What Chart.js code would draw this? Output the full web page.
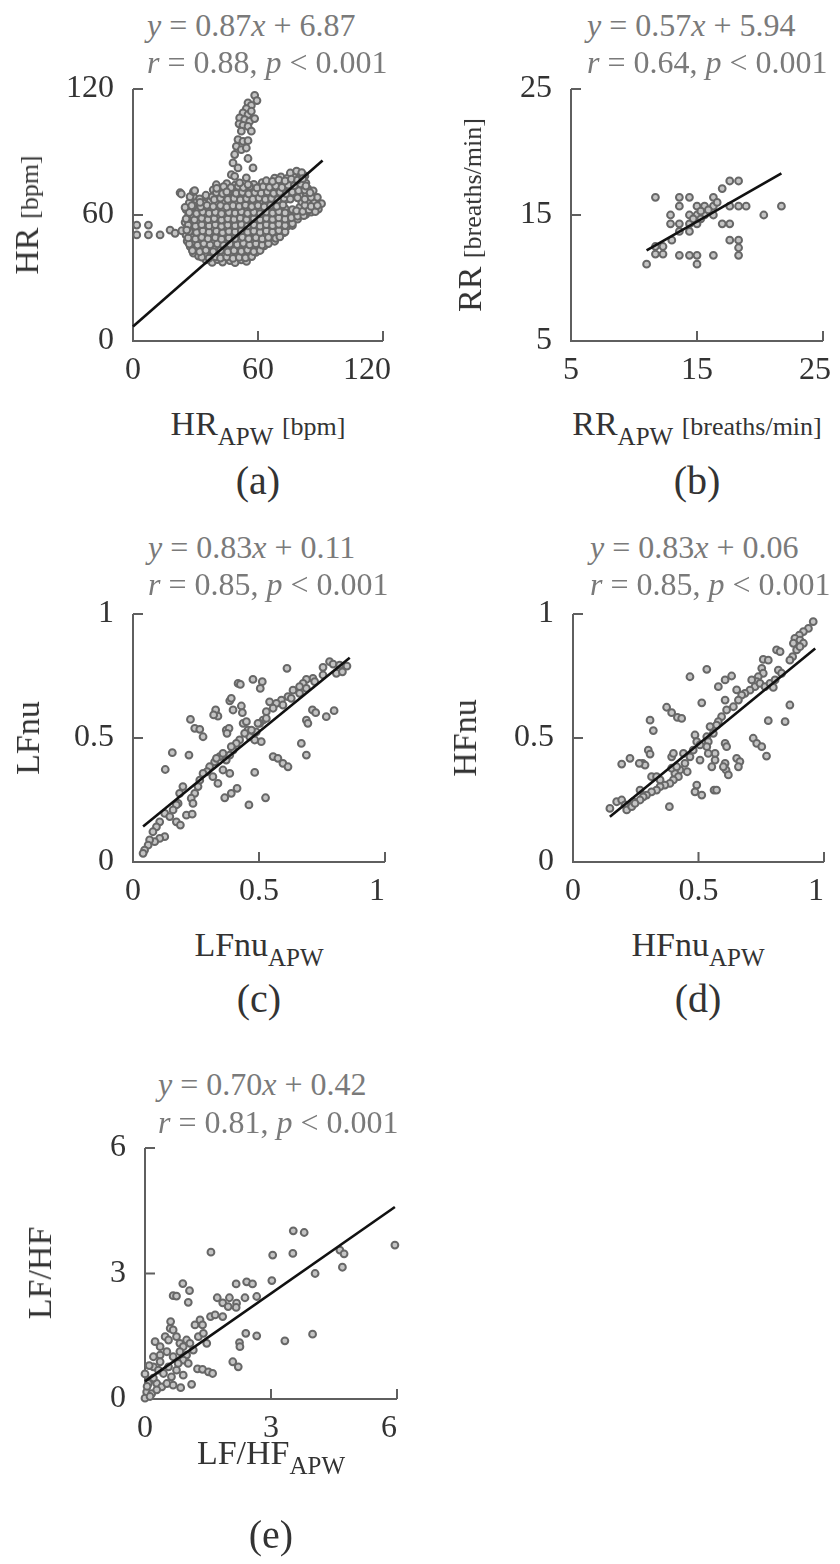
<!DOCTYPE html>
<html><head><meta charset="utf-8">
<script src="https://cdn.jsdelivr.net/npm/chart.js@4.4.1/dist/chart.umd.min.js"></script>
<style>
html,body{margin:0;padding:0;background:#fff;width:840px;height:1564px;overflow:hidden;}
body{position:relative;font-family:"Liberation Serif","Times New Roman",Times,"DejaVu Serif","Noto Serif",serif;}
#charts canvas{position:absolute;}
.t{position:absolute;white-space:nowrap;color:#333;line-height:1;}
.eq{font-size:32px;color:#7a7a7a;transform:translateY(-50%);}
.xt{font-size:34px;transform:translate(-50%,-50%);}
.yt{font-size:34px;transform:translate(-50%,-50%) rotate(-90deg);}
.cap{font-size:40px;transform:translate(-50%,-50%);}
sub{font-size:25px;vertical-align:-10px;line-height:0;}
.u{font-size:26px;}
</style></head><body>
<div id="charts"></div>

<div class="t eq" style="left:147px;top:25px"><i>y</i> = 0.87<i>x</i> + 6.87</div>
<div class="t eq" style="left:147px;top:62px"><i>r</i> = 0.88, <i>p</i> &lt; 0.001</div>
<div class="t eq" style="left:587px;top:25px"><i>y</i> = 0.57<i>x</i> + 5.94</div>
<div class="t eq" style="left:587px;top:62px"><i>r</i> = 0.64, <i>p</i> &lt; 0.001</div>
<div class="t eq" style="left:148px;top:547px"><i>y</i> = 0.83<i>x</i> + 0.11</div>
<div class="t eq" style="left:148px;top:584px"><i>r</i> = 0.85, <i>p</i> &lt; 0.001</div>
<div class="t eq" style="left:590px;top:547px"><i>y</i> = 0.83<i>x</i> + 0.06</div>
<div class="t eq" style="left:590px;top:584px"><i>r</i> = 0.85, <i>p</i> &lt; 0.001</div>
<div class="t eq" style="left:158px;top:1084px"><i>y</i> = 0.70<i>x</i> + 0.42</div>
<div class="t eq" style="left:158px;top:1122px"><i>r</i> = 0.81, <i>p</i> &lt; 0.001</div>

<div class="t yt" style="left:27px;top:215px">HR <span class="u">[bpm]</span></div>
<div class="t yt" style="left:470px;top:215px">RR <span class="u">[breaths/min]</span></div>
<div class="t yt" style="left:28px;top:738px">LFnu</div>
<div class="t yt" style="left:465px;top:738px">HFnu</div>
<div class="t yt" style="left:40px;top:1273px">LF/HF</div>

<div class="t xt" style="left:258px;top:424px">HR<sub>APW</sub> <span class="u">[bpm]</span></div>
<div class="t xt" style="left:697px;top:424px">RR<sub>APW</sub> <span class="u">[breaths/min]</span></div>
<div class="t xt" style="left:259px;top:945px">LFnu<sub>APW</sub></div>
<div class="t xt" style="left:698px;top:945px">HFnu<sub>APW</sub></div>
<div class="t xt" style="left:271px;top:1453px">LF/HF<sub>APW</sub></div>

<div class="t cap" style="left:258px;top:481px">(a)</div>
<div class="t cap" style="left:697px;top:481px">(b)</div>
<div class="t cap" style="left:259px;top:999px">(c)</div>
<div class="t cap" style="left:698px;top:999px">(d)</div>
<div class="t cap" style="left:271px;top:1535px">(e)</div>

<script>
// ---------- tick values ----------
const hrTicks = [0, 60, 120];
const rrTicks = [5, 15, 25];
const nuTicks = [0, 0.5, 1];
const lfhfTicks = [0, 3, 6];

// ---------- regression line end points ----------
const hrFit = [[0, 6.87], [91, 86.0]];
const rrFit = [[11.0, 12.2], [21.7, 18.3]];
const lfnuFit = [[0.04, 0.143], [0.86, 0.824]];
const hfnuFit = [[0.147, 0.182], [0.965, 0.861]];
const lfhfFit = [[0, 0.42], [5.95, 4.59]];

// ---------- (a) HR_APW vs HR ----------
const hrFinger = [[58.4,117.0],[59.5,114.5],[55.2,113.4],[56.8,112.2],[54.4,110.7],[52.8,108.6],[55.2,107.8],[56.8,109.4],[51.2,106.2],[53.6,105.4],[56.0,104.6],[58.4,105.9],[50.9,103.4],[52.8,102.7],[55.2,102.2],[56.8,99.9],[52.0,99.9],[50.4,95.9],[52.8,95.1],[55.2,95.4],[49.6,92.7],[52.0,91.1],[54.4,91.9],[48.8,88.8],[55.2,86.9],[48.0,84.8],[50.4,82.4],[57.6,82.4],[47.2,79.2],[48.8,78.4],[54.4,77.7],[51.2,75.3],[55.2,74.5]];
const hrTail = [[1.8,55.2],[1.8,50.5],[7.4,55.2],[7.4,50.5],[13.0,50.5],[17.8,52.8],[20.2,51.3],[23.4,52.5],[25.8,52.8],[22.6,70.6],[27.4,68.7],[29.0,71.1],[25.0,63.6],[28.2,64.4],[32.2,66.0],[40.2,72.7],[45.0,71.0],[23.2,70.0],[29.6,71.6]];
const hrCloud = [
[35,38.6],[38,37.4],[40.5,38.8],[43,37.6],[46.5,38.3],[49,37.3],[52,38.6],[54.5,37.9],
[29,41.8],[31.5,40.4],[34.5,41.5],[37.5,40.6],[41,41.9],[44,40.5],[47.5,41.2],[50,40.3],[53,41.6],[56.5,41.0],[59,42.2],
[27.5,44.9],[30,43.4],[33,44.8],[36.5,43.6],[39,44.6],[42.5,43.3],[45,45.0],[48,43.9],[51.5,44.5],[54,43.5],[57,44.8],[60.5,44.0],[63,45.3],
[26,47.6],[29.5,47.2],[32,46.4],[35.5,47.9],[38.5,46.7],[42,47.6],[45,46.5],[48.5,47.8],[51,46.9],[54,47.6],[57.5,46.6],[60,48.0],[63,47.1],[65.5,48.4],[68,47.5],
[25.5,50.4],[28,49.3],[31.5,50.8],[34,49.8],[37,50.9],[40.5,49.5],[43,50.6],[46,49.6],[49.5,50.9],[52,49.8],[55,50.7],[58.5,49.7],[61,51.0],[64,50.2],[67.5,51.2],[70,50.4],[72.5,51.6],
[26,53.8],[29.5,52.9],[32,54.0],[35,53.1],[38.5,53.9],[41,52.8],[44,54.1],[47.5,53.2],[50,54.0],[53,52.9],[56.5,53.8],[59,53.3],[62,54.2],[65.5,53.4],[68,54.3],[71,53.5],[74,54.6],[76.5,55.0],
[25,56.5],[28.5,55.9],[31,57.0],[34,56.0],[37.5,56.9],[40,55.8],[43,56.8],[46.5,56.0],[49,57.1],[52,56.2],[55.5,57.0],[58,56.1],[61,57.2],[64.5,56.3],[67,57.3],[70,56.5],[73.5,57.6],[76,56.8],[79,58.0],
[26.5,59.4],[29,58.9],[32.5,60.0],[35,59.1],[38,60.1],[41.5,59.0],[44,60.2],[47,59.3],[50.5,60.3],[53,59.4],[56,60.4],[59.5,59.5],[62,60.5],[65,59.7],[68.5,60.7],[71,59.8],[74,60.9],[77.5,60.1],[80,61.0],[83,60.3],[85.5,61.4],
[25.5,62.6],[28,63.2],[31.5,62.4],[34,63.3],[37,62.5],[40.5,63.4],[43,62.6],[46,63.5],[49.5,62.7],[52,63.6],[55,62.8],[58.5,63.7],[61,62.9],[64,63.8],[67.5,63.0],[70,63.9],[73,63.1],[76.5,62.6],[80,63.6],[83,62.9],[86,63.8],[89,62.8],
[27,65.8],[30.5,66.3],[34,65.6],[37,66.5],[40,65.7],[43.5,66.6],[46,65.9],[49,66.8],[52.5,66.0],[55,66.9],[58,66.1],[61.5,67.0],[64,66.2],[67,67.1],[70.5,66.3],[73,67.3],[81,66.2],[84,67.0],[87,66.0],[90.5,65.4],
[29,68.9],[35,69.4],[38,68.6],[41,69.5],[44.5,68.7],[47,69.6],[50,68.8],[53.5,69.7],[56,68.9],[59,69.8],[62.5,69.0],[65,69.9],[68,69.1],[71.5,70.0],[74,69.2],[77,70.1],[80.5,69.3],[83,70.3],[86,69.5],[88.5,68.4],
[38.5,72.0],[42,71.4],[45,72.3],[48,71.5],[51.5,72.4],[54,71.6],[57,72.5],[60.5,71.7],[63,72.6],[66,71.8],[69.5,72.8],[72,72.0],[75,73.0],[78.5,72.2],[81,73.2],[84,72.4],[86.5,71.5],
[40,74.4],[45,74.9],[49,74.2],[58,74.6],[62,75.4],[65,74.6],[68,75.6],[71,74.8],[74,75.9],[77,75.0],[80,76.1],[83,75.2],
[68,77.6],[71,78.2],[74,77.4],[77,78.5],[80,77.7],[82.5,78.6],
[75.5,80.0],[78.5,80.9],[81,80.2]
];
// overlapping points between the rows of the dense core
const hrCloudCore = [
[33,39.9],[36.5,39.4],[39.5,40.1],[42,39.5],[45,40.0],[48,39.3],[51,39.8],[54,39.6],[57,40.2],
[28.5,43.0],[32,42.5],[35,43.2],[38.5,42.6],[42,43.1],[45.5,42.4],[48.5,43.0],[52,42.7],[55,43.3],[58,42.6],[61,43.1],
[27,46.2],[31,45.7],[34,46.4],[37,45.8],[40.5,46.3],[43.5,45.6],[46.5,46.2],[50,45.9],[53,46.5],[56,45.8],[59,46.3],[62,45.7],[65,46.4],
[26.5,49.1],[30,48.6],[33,49.3],[36,48.7],[39.5,49.2],[42.5,48.5],[46,49.1],[49,48.8],[52.5,49.4],[55.5,48.7],[59,49.2],[62,48.6],[65,49.3],[68.5,48.9],[70.5,49.6],
[27,52.2],[30.5,51.7],[33.5,52.4],[36.5,51.8],[40,52.3],[43,51.6],[46,52.2],[49,51.9],[52,52.5],[55,51.8],[58,52.3],[61,51.7],[64,52.4],[67,51.9],[70,52.6],[73,52.0],
[26.5,55.2],[30,54.7],[33,55.4],[36.5,54.8],[39.5,55.3],[42.5,54.6],[45.5,55.2],[49,54.9],[52,55.5],[55,54.8],[58,55.3],[61,54.7],[64,55.4],[67,54.9],[70,55.6],[73,55.0],[76.5,55.9],
[25.5,58.2],[29.5,57.7],[33,58.4],[36,57.8],[39,58.3],[42.5,57.6],[45.5,58.2],[48.5,57.9],[51.5,58.5],[54.5,57.8],[58,58.3],[61,57.7],[64,58.4],[67,57.9],[70,58.6],[73,58.0],[76,58.7],[79,59.4],[82,59.7],
[27,61.2],[30.5,60.7],[33.5,61.4],[36.5,60.8],[39.5,61.3],[42.5,60.6],[46,61.2],[49,60.9],[52,61.5],[55,60.8],[58,61.3],[61,60.7],[64,61.4],[67,60.9],[70,61.6],[73,61.0],[78.5,62.0],[81.5,61.7],[84.5,62.4],[87.5,61.6],
[29,64.4],[32.5,63.9],[35.5,64.6],[38.5,64.0],[42,64.5],[45,63.8],[48,64.4],[51,64.1],[54,64.7],[57,64.0],[60,64.5],[63,63.9],[66,64.6],[69,64.1],[72,64.8],[82.5,64.6],[85.5,64.1],[88.5,64.5],
[32,67.7],[39,67.3],[42,68.0],[45.5,67.4],[48.5,67.9],[51.5,67.2],[54.5,67.8],[57.5,67.5],[60.5,68.1],[63.5,67.4],[66.5,67.9],[69.5,67.3],[72.5,68.0],[75.5,67.6],[79,68.2],[82.5,67.6],[85.5,68.4],
[40,70.7],[43,70.2],[46,70.9],[49.5,70.3],[52.5,70.8],[55.5,70.1],[58.5,70.7],[61.5,70.4],[64.5,71.0],[67.5,70.3],[70.5,70.8],[73.5,70.2],[76.5,70.9],[79.5,71.6],[82.5,71.9],[85,70.6],
[43.5,73.5],[47,73.0],[50.5,73.7],[53,73.1],[56,73.6],[59.5,72.9],[62.5,73.5],[65.5,73.2],[68.5,73.8],[71.5,73.1],[74.5,74.2],[77.5,74.0],[80.5,74.8],[83,73.8],
[64,76.3],[67,76.0],[70,76.7],[73,76.2],[76,77.1],[79,76.6],[81.5,77.3]
];

// ---------- (b) RR_APW vs RR ----------
const rrPoints = [[11.7,16.4],[13.6,16.4],[14.4,16.4],[13.6,15.7],[15.0,15.7],[15.6,15.7],[16.3,15.7],[17.6,15.7],[18.3,15.7],[18.9,15.7],[21.7,15.7],
[17.6,17.7],[18.3,17.7],[17.0,17.1],[16.3,16.4],
[12.9,15.0],[14.4,15.0],[15.0,15.0],[15.6,15.0],[16.3,15.0],[20.3,15.0],
[12.9,14.3],[13.6,14.3],[14.4,14.3],[15.0,14.3],[17.0,14.3],[17.6,14.3],
[13.6,13.7],[14.4,13.7],[13.0,13.0],[12.3,12.5],[11.7,12.5],[17.6,13.0],[18.3,13.0],
[11.7,11.9],[12.3,11.9],[13.6,11.8],[14.4,11.8],[15.0,11.8],[16.3,11.8],[18.3,12.4],[18.3,11.8],
[11.0,11.1],[15.0,11.1],[15.3,15.3],[15.9,15.4],[16.6,16.0],[14.7,14.7],[15.3,14.7]];

// ---------- (c) LFnu_APW vs LFnu ----------
const lfnuPoints = [[0.611,0.781],[0.78,0.808],[0.794,0.798],[0.82,0.794],[0.849,0.79],[0.807,0.761],[0.831,0.767],[0.754,0.785],[0.714,0.74],[0.688,0.736],[0.675,0.72],[0.661,0.707],[0.635,0.693],[0.615,0.667],[0.589,0.653],[0.569,0.64],[0.542,0.646],[0.556,0.62],[0.529,0.606],[0.516,0.572],[0.503,0.559],[0.476,0.736],[0.513,0.727],[0.505,0.7],[0.417,0.72],[0.426,0.716],[0.384,0.65],[0.39,0.66],[0.397,0.613],[0.43,0.629],[0.434,0.602],[0.328,0.613],[0.337,0.588],[0.32,0.593],[0.228,0.575],[0.245,0.539],[0.265,0.535],[0.278,0.505],[0.37,0.532],[0.381,0.539],[0.373,0.519],[0.437,0.559],[0.45,0.566],[0.456,0.532],[0.463,0.505],[0.443,0.519],[0.423,0.492],[0.41,0.478],[0.397,0.451],[0.384,0.431],[0.37,0.411],[0.489,0.525],[0.509,0.485],[0.483,0.492],[0.156,0.441],[0.222,0.431],[0.128,0.373],[0.344,0.425],[0.324,0.404],[0.304,0.384],[0.294,0.364],[0.317,0.344],[0.337,0.317],[0.357,0.371],[0.384,0.357],[0.265,0.33],[0.258,0.304],[0.245,0.277],[0.231,0.257],[0.238,0.236],[0.198,0.304],[0.185,0.277],[0.179,0.236],[0.172,0.23],[0.556,0.425],[0.575,0.418],[0.595,0.398],[0.615,0.384],[0.668,0.478],[0.688,0.431],[0.688,0.572],[0.694,0.559],[0.712,0.613],[0.725,0.602],[0.767,0.586],[0.798,0.61],[0.483,0.361],[0.364,0.259],[0.39,0.277],[0.413,0.297],[0.526,0.259],[0.46,0.23],[0.172,0.162],[0.188,0.149],[0.212,0.189],[0.235,0.193],[0.126,0.196],[0.106,0.162],[0.093,0.142],[0.079,0.122],[0.126,0.102],[0.106,0.095],[0.086,0.082],[0.066,0.089],[0.06,0.068],[0.046,0.048],[0.04,0.035],[0.146,0.183],[0.159,0.21],[0.278,0.357],[0.331,0.418],[0.357,0.438],[0.39,0.465],[0.47,0.532],[0.496,0.559],[0.529,0.579],[0.595,0.633],[0.628,0.66],[0.661,0.68],[0.688,0.7],[0.721,0.727],[0.754,0.754]];

// ---------- (d) HFnu_APW vs HFnu ----------
const hfnuPoints = [[0.957,0.969],[0.938,0.942],[0.918,0.929],[0.902,0.915],[0.884,0.902],[0.904,0.895],[0.878,0.882],[0.918,0.882],[0.891,0.855],[0.904,0.868],[0.875,0.828],[0.864,0.814],[0.811,0.855],[0.825,0.848],[0.758,0.817],[0.778,0.814],[0.752,0.781],[0.758,0.761],[0.738,0.747],[0.732,0.727],[0.725,0.707],[0.705,0.693],[0.685,0.68],[0.712,0.734],[0.745,0.72],[0.765,0.707],[0.785,0.72],[0.805,0.734],[0.818,0.774],[0.831,0.761],[0.798,0.704],[0.533,0.777],[0.466,0.747],[0.632,0.75],[0.606,0.734],[0.579,0.707],[0.652,0.694],[0.672,0.673],[0.659,0.653],[0.639,0.626],[0.612,0.613],[0.592,0.586],[0.579,0.566],[0.606,0.653],[0.572,0.552],[0.546,0.546],[0.559,0.519],[0.533,0.505],[0.513,0.642],[0.373,0.624],[0.393,0.602],[0.416,0.583],[0.433,0.579],[0.307,0.572],[0.32,0.53],[0.864,0.633],[0.845,0.566],[0.778,0.57],[0.718,0.499],[0.732,0.478],[0.752,0.465],[0.771,0.427],[0.652,0.418],[0.665,0.405],[0.659,0.384],[0.606,0.478],[0.612,0.465],[0.606,0.398],[0.61,0.371],[0.619,0.351],[0.599,0.384],[0.566,0.438],[0.566,0.411],[0.553,0.384],[0.539,0.485],[0.533,0.465],[0.539,0.438],[0.506,0.411],[0.486,0.512],[0.493,0.485],[0.506,0.472],[0.479,0.451],[0.466,0.424],[0.446,0.398],[0.426,0.371],[0.406,0.357],[0.393,0.424],[0.4,0.438],[0.44,0.438],[0.455,0.364],[0.42,0.344],[0.4,0.331],[0.386,0.317],[0.366,0.31],[0.347,0.304],[0.333,0.29],[0.313,0.283],[0.293,0.27],[0.28,0.263],[0.267,0.25],[0.24,0.243],[0.3,0.451],[0.307,0.435],[0.278,0.398],[0.287,0.391],[0.227,0.418],[0.194,0.395],[0.264,0.398],[0.493,0.31],[0.486,0.283],[0.513,0.27],[0.562,0.29],[0.572,0.29],[0.384,0.223],[0.147,0.216],[0.174,0.243],[0.194,0.25],[0.207,0.23],[0.214,0.21],[0.234,0.223],[0.247,0.236],[0.267,0.29],[0.313,0.344],[0.333,0.344],[0.347,0.331],[0.393,0.378],[0.413,0.384]];

// ---------- (e) LF/HF_APW vs LF/HF ----------
const lfhfPoints = [[3.53,4.02],[3.79,3.98],[5.95,3.68],[1.57,3.51],[3.04,3.44],[3.52,3.48],[4.64,3.56],[4.74,3.47],[4.7,3.15],[4.05,3.0],[3.02,2.83],[2.17,2.75],[2.42,2.8],[2.56,2.75],[0.9,2.76],[1.06,2.59],[0.67,2.47],[0.75,2.46],[1.03,2.31],[1.72,2.42],[1.85,2.3],[2.01,2.42],[1.98,2.21],[2.18,2.29],[2.17,2.19],[2.38,2.42],[2.66,2.45],[2.4,1.57],[2.66,1.51],[3.33,1.39],[3.99,1.55],[2.25,1.35],[2.26,1.25],[2.09,0.89],[2.22,0.77],[1.25,0.72],[1.37,0.71],[1.51,0.65],[1.61,0.61],[1.11,0.35],[0.85,0.27],[0.91,0.57],[1.56,1.97],[1.67,2.01],[1.85,1.97],[1.19,1.77],[1.31,1.89],[1.37,1.77],[1.47,1.33],[0.61,1.85],[0.6,1.69],[0.24,1.37],[0.36,1.25],[0.48,1.49],[0.56,1.41],[0.67,1.65],[0.75,1.49],[0.83,1.33],[0.91,1.25],[0.99,1.41],[1.07,1.33],[1.15,1.17],[1.27,1.49],[1.39,1.57],[0.36,1.05],[0.52,1.13],[0.67,1.01],[0.83,1.13],[0.99,1.05],[0.2,0.77],[0.32,0.69],[0.44,0.61],[0.56,0.77],[0.63,0.53],[0.75,0.69],[0.12,0.45],[0.28,0.37],[0.4,0.29],[0.52,0.37],[0.67,0.33],[0.04,0.17],[0.16,0.13],[0.0,0.02],[0.12,0.06],[0.28,0.22],[0.0,0.6],[0.08,0.37],[0.91,0.93],[1.03,0.85],[0.79,0.85],[0.36,0.89],[0.2,1.01],[0.1,0.8],[0.2,0.5],[0.05,0.3]];

const toXY = a => a.map(p => ({x: p[0], y: p[1]}));

// lastPad: trailing space that nudges the last x tick label left, as in the original figure
const panels = [
  {L:133, T:89,  R:383, B:341,  xt:hrTicks,   yt:hrTicks,   pts:[...hrCloud, ...hrCloudCore, ...hrFinger, ...hrTail], fit:hrFit, lastPad:'\u2003'},
  {L:571, T:89,  R:823, B:341,  xt:rrTicks,   yt:rrTicks,   pts:rrPoints,   fit:rrFit,   lastPad:'\u2002'},
  {L:133, T:614, R:385, B:862,  xt:nuTicks,   yt:nuTicks,   pts:lfnuPoints, fit:lfnuFit, lastPad:'\u2002'},
  {L:573, T:614, R:824, B:862,  xt:nuTicks,   yt:nuTicks,   pts:hfnuPoints, fit:hfnuFit, lastPad:'\u2002'},
  {L:145, T:1148,R:397, B:1399, xt:lfhfTicks, yt:lfhfTicks, pts:lfhfPoints, fit:lfhfFit, lastPad:'\u2002'}
];

const axesPlugin = {
  id: 'axesInward',
  beforeDatasetsDraw(chart) {
    const {ctx, chartArea: {left, right, top, bottom}, scales: {x, y}} = chart;
    ctx.save();
    ctx.strokeStyle = '#5f5f5f';
    ctx.lineWidth = 2;
    ctx.beginPath();
    ctx.moveTo(left, top); ctx.lineTo(left, bottom); ctx.lineTo(right, bottom);
    x.ticks.forEach(t => {
      if (t.value === x.min) return;
      const px = x.getPixelForValue(t.value);
      ctx.moveTo(px, bottom); ctx.lineTo(px, bottom - 10);
    });
    y.ticks.forEach(t => {
      if (t.value === y.min) return;
      const py = y.getPixelForValue(t.value);
      ctx.moveTo(left, py); ctx.lineTo(left + 10, py);
    });
    ctx.stroke();
    ctx.restore();
  }
};

const tickFont = {family: '"Liberation Serif","Times New Roman",Times,"DejaVu Serif","Noto Serif",serif', size: 32};
const padL = 10, yW = 90, padT = 40, padR = 56, xH = 50, padB = 10;

panels.forEach(p => {
  const cv = document.createElement('canvas');
  const w = (p.R - p.L) + padL + yW + padR;
  const h = (p.B - p.T) + padT + xH + padB;
  cv.width = w; cv.height = h;
  cv.style.width = w + 'px'; cv.style.height = h + 'px';
  cv.style.left = (p.L - padL - yW) + 'px';
  cv.style.top = (p.T - padT) + 'px';
  document.getElementById('charts').appendChild(cv);
  new Chart(cv, {
    type: 'scatter',
    data: {datasets: [
      {type: 'line', data: toXY(p.fit), borderColor: '#111', borderWidth: 2.6, pointRadius: 0, fill: false, order: 0, clip: false},
      {type: 'scatter', data: toXY(p.pts), pointRadius: 3.4, borderWidth: 2, borderColor: '#676767', backgroundColor: '#c4c4c4', order: 1, clip: false}
    ]},
    options: {
      responsive: false, animation: false, devicePixelRatio: 1,
      layout: {padding: {left: padL, top: padT, right: padR, bottom: padB}},
      plugins: {legend: {display: false}, tooltip: {enabled: false}},
      scales: {
        x: {type: 'linear', min: p.xt[0], max: p.xt[p.xt.length - 1],
            afterBuildTicks: s => { s.ticks = p.xt.map(v => ({value: v})); },
            afterFit: s => { s.height = xH; },
            ticks: {font: tickFont, color: '#333', padding: 10, maxRotation: 0, autoSkip: false,
                    callback: (v, i, ts) => i === ts.length - 1 ? String(v) + p.lastPad : String(v)},
            grid: {display: false, drawTicks: false}, border: {display: false}},
        y: {type: 'linear', min: p.yt[0], max: p.yt[p.yt.length - 1],
            afterBuildTicks: s => { s.ticks = p.yt.map(v => ({value: v})); },
            afterFit: s => { s.width = yW; },
            ticks: {font: tickFont, color: '#333', padding: 19, autoSkip: false, callback: v => String(v)},
            grid: {display: false, drawTicks: false}, border: {display: false}}
      }
    },
    plugins: [axesPlugin]
  });
});
</script>
</body></html>
